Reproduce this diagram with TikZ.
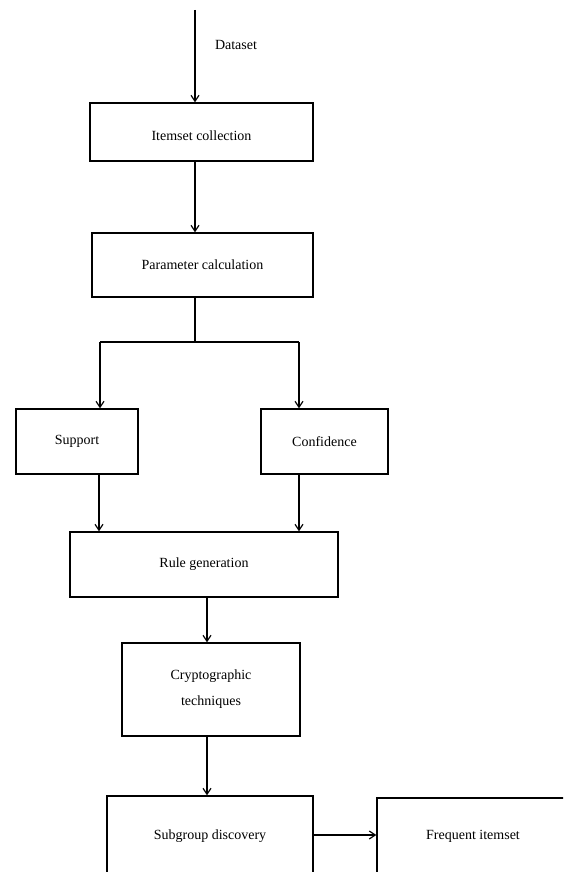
\documentclass[tikz,border=0pt]{standalone}
\usepackage{fontspec}
\setmainfont{Liberation Serif}
\usetikzlibrary{arrows.meta}
\begin{document}
\begin{tikzpicture}[x=1pt,y=-1pt,
  box/.style={draw, line width=1.3pt, inner sep=0pt, align=center,
    font=\fontsize{14}{26}\selectfont},
  arr/.style={line width=1.2pt, -{Straight Barb[length=6pt,width=8pt]}},
  lbl/.style={font=\fontsize{14}{17}\selectfont, inner sep=0pt}]
\useasboundingbox (0,0) rectangle (563,872);
\clip (0,0) rectangle (563,872);
\node[box, minimum width=223pt, minimum height=58pt, text height=16pt, text depth=0pt] (item) at (201.5,132) {Itemset collection};
\node[box, minimum width=221pt, minimum height=64pt] (param) at (202.5,265) {Parameter calculation};
\node[box, minimum width=122pt, minimum height=65pt] (support) at (77,441.5) {Support};
\node[box, minimum width=127pt, minimum height=65pt] (conf) at (324.5,441.5) {Confidence};
\node[box, minimum width=268pt, minimum height=65pt] (rule) at (204,564.5) {Rule generation};
\node[box, minimum width=178pt, minimum height=93pt] (crypto) at (211,689.5) {Cryptographic\\techniques};
\node[box, minimum width=206pt, minimum height=80pt] (sub) at (210,836) {Subgroup discovery};
\node[box, minimum width=192pt, minimum height=76pt] (freq) at (473,836) {Frequent itemset};
\node[lbl] (ds) at (236,45) {Dataset};
\coordinate (top) at (195,10);
\coordinate (split) at (195,342);
\coordinate (sl) at (100,342);
\coordinate (sr) at (299,342);
\draw[arr] (top) -- (top |- item.north);
\draw[arr] (item.south -| top) -- (param.north -| top);
\draw[line width=1.2pt] (param.south -| top) -- (split);
\draw[line width=1.2pt] (sl) -- (sr);
\draw[arr] (sl) -- (sl |- support.north);
\draw[arr] (sr) -- (sr |- conf.north);
\draw[arr] (support.south -| 99,0) -- (rule.north -| 99,0);
\draw[arr] (conf.south -| sr) -- (rule.north -| sr);
\draw[arr] (rule.south -| 207,0) -- (crypto.north -| 207,0);
\draw[arr] (crypto.south -| 207,0) -- (sub.north -| 207,0);
\draw[arr] (sub.east |- 0,835) -- (freq.west |- 0,835);
\end{tikzpicture}
\end{document}
